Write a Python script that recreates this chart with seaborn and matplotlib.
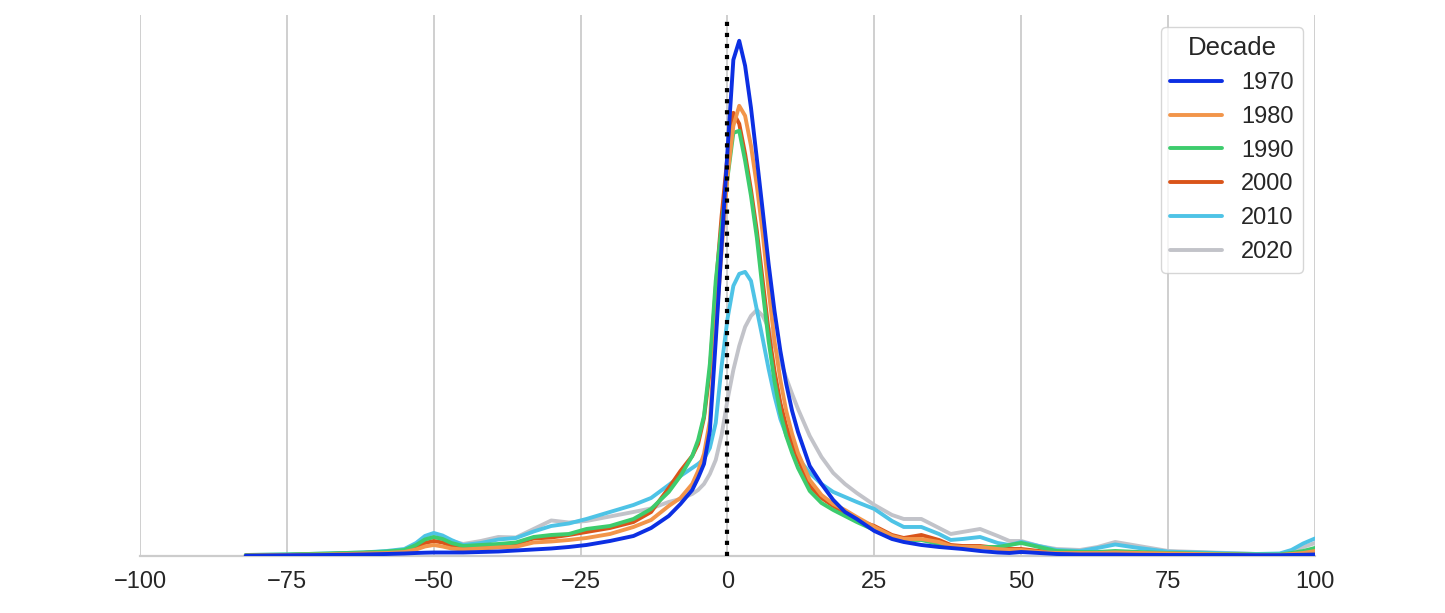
import numpy as np
import pandas as pd
import matplotlib
matplotlib.use("Agg")
import matplotlib.pyplot as plt
import seaborn as sns

# deviation grid (x) and density per decade (units of 1e-4)
x_vals = [-82, -75, -68, -62, -58, -55, -53, -51.5, -50, -48.5, -47, -45, -42, -39, -36, -33, -30, -27, -24, -20, -16, -13, -10,
          -8, -6, -5, -4, -3, -2, -1, 0, 1, 2, 3, 4, 5, 6, 7, 8, 9, 10, 11, 12,
          14, 16, 18, 20, 22, 25, 28, 30, 33, 36, 38, 40, 43, 46, 48, 50,
          53, 56, 60, 63, 66, 70, 75, 80, 85, 90, 94, 96, 98, 100]

dens_1970 = [0.3, 0.7, 1, 1.5, 2, 2.5, 3, 3.3, 3.5, 3.5, 3.5, 3.5, 4, 4.5, 5.5, 6.5, 7.5, 9, 11, 15, 20, 28, 40,
             52, 66, 78, 92, 125, 215, 310, 405, 496, 515, 490, 448, 397, 345, 292, 245, 205, 172, 145, 124,
             90, 72, 56, 44, 37, 25, 17, 14, 11, 9, 8, 7, 5, 3.5, 3, 4,
             3, 2, 1.5, 1.5, 1.5, 1.2, 1, 1, 1, 0.8, 0.8, 1, 1.2, 1.5]
dens_1980 = [0.5, 1, 1.5, 2.5, 3, 4, 6.5, 9.5, 11, 9.5, 7.5, 6.5, 7.5, 8.5, 9.3, 13.5, 14.5, 16, 18, 22, 29, 36, 50,
             58, 72, 85, 102, 135, 225, 305, 380, 430, 450, 440, 410, 370, 322, 266, 215, 176, 145, 122, 103,
             76, 61, 52, 46, 39, 29, 20, 17, 17, 14, 10, 9, 9, 7, 6, 6,
             4, 3, 3, 3, 3.5, 3, 2.5, 2, 1.5, 1, 1, 2, 3, 5]
dens_1990 = [1, 1.5, 2.5, 3.5, 4.5, 6, 11, 16.5, 19, 17, 13, 10, 11, 12, 13.5, 19, 21, 22, 27, 30, 37, 47, 64,
             80, 100, 116, 140, 192, 275, 330, 378, 423, 425, 395, 360, 318, 265, 215, 175, 143, 120, 103, 88,
             65, 53, 46, 40, 34, 26, 18, 16, 16, 12, 9, 9, 9, 9, 11, 13,
             9, 5, 4, 4, 5, 4, 3, 2.5, 2, 1.5, 1.5, 3, 5, 8]
dens_2000 = [0.5, 1, 2, 3, 4, 5, 9, 13, 15, 13.5, 10, 8.5, 10, 11, 12, 17.5, 18.5, 21, 24, 28, 34, 44, 68,
             85, 100, 112, 138, 185, 268, 340, 400, 443, 432, 402, 366, 325, 275, 225, 185, 153, 130, 113, 97,
             70, 58, 50, 43, 36, 30, 21, 18, 21, 16, 11, 10, 10, 8, 7, 7,
             5, 4, 3, 3, 4, 3, 2.5, 2, 1.5, 1, 1, 2, 4, 6]
dens_2010 = [1, 1.5, 2.5, 3.5, 5, 7, 13, 20, 23, 20.5, 16, 11, 13, 16.5, 18, 24.5, 30, 32.5, 37, 44, 51, 58, 71,
             80, 88, 92, 97, 108, 133, 190, 237, 270, 282, 284, 275, 246, 217, 187, 160, 137, 121, 109, 98,
             83, 72, 64, 59, 54, 47, 35, 29, 29, 22, 16, 17, 19, 13, 11, 14,
             10, 6, 5, 8, 11.5, 8, 4.3, 3.5, 2.7, 2, 2.5, 6, 12.5, 17.5]
dens_2020 = [0.5, 1, 2, 3, 4, 6, 11, 16.5, 19, 17.5, 15, 12, 15, 19, 18.5, 27, 35.5, 33.5, 35, 39.5, 44, 47.5, 54,
             57, 62, 66, 72, 82, 96, 121, 156, 186, 210, 229, 240, 246, 240, 228, 210, 195, 178, 162, 147,
             120, 99, 83, 72, 63, 51, 41, 37, 37, 28, 22, 24, 27, 20, 15, 15,
             10, 7, 6, 9, 14, 10, 5, 4, 3, 2, 2, 4, 9, 13]

decades = ["1970", "1980", "1990", "2000", "2010", "2020"]
colors = ["#0c2fe3", "#f2954a", "#3dcc6d", "#d9541a", "#4ec3e6", "#c2c3c9"]

wide = pd.DataFrame({"x": x_vals, "1970": dens_1970, "1980": dens_1980, "1990": dens_1990,
                     "2000": dens_2000, "2010": dens_2010, "2020": dens_2020})
df = wide.melt(id_vars="x", var_name="Decade", value_name="density")
df["density"] = df["density"] * 1e-4

sns.set_theme(style="whitegrid")
plt.rcParams["font.family"] = ["Liberation Sans", "DejaVu Sans"]

fig, ax = plt.subplots(figsize=(14.45, 6.13), dpi=100)
fig.subplots_adjust(left=0.0969, right=0.91, bottom=0.093, top=0.9755)

sns.lineplot(data=df, x="x", y="density", hue="Decade", hue_order=decades,
             palette=dict(zip(decades, colors)), linewidth=2.8, ax=ax)

# older decades on top
for i, line in enumerate(ax.lines):
    line.set_zorder(3 - 0.1 * i)
    line.set_solid_joinstyle("round")

ax.axvline(0, color="black", linestyle=":", linewidth=3, zorder=5)

ax.set_xlim(-100, 100)
ax.set_ylim(0, df["density"].max() * 1.05)
ax.set_xticks(np.arange(-100, 101, 25))
ax.set_yticks([])
ax.set_xlabel("")
ax.set_ylabel("")
ax.grid(axis="y", visible=False)
ax.grid(axis="x", color="#cccccc", linewidth=1.3)
ax.tick_params(axis="x", labelsize=17, pad=10.5, length=0)
sns.despine(ax=ax, left=True)
ax.spines["bottom"].set_color("#cccccc")
ax.spines["bottom"].set_linewidth(1.6)

sns.move_legend(ax, "upper right", title="Decade", fontsize=17, title_fontsize=18.5,
                handlelength=2.2, borderaxespad=0.5)

fig.savefig("out.png", dpi=100)
